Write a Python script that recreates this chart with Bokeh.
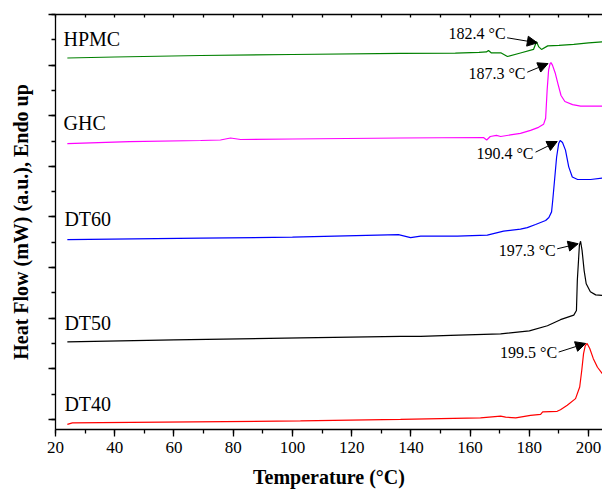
from bokeh.plotting import figure
from bokeh.models import Range1d, LinearAxis, SingleIntervalTicker, Arrow, NormalHead
from bokeh.embed import file_html
from bokeh.resources import INLINE
from bokeh.core.properties import value

# ---------------- data ----------------
SERIES = ["HPMC", "GHC", "DT60", "DT50", "DT40"]
COLORS = ["#008000", "#ff00ff", "#0000ff", "#000000", "#ff0000"]

hpmc_t = [24, 40, 69, 100, 136.5, 155, 163, 165.5, 166.2, 167.2, 170.5, 172.6, 177, 181.4, 182.4, 183.2,
          184.1, 186.2, 190, 195, 200, 204.7]
hpmc_v = [7.14, 7.16, 7.19, 7.21, 7.23, 7.235, 7.25, 7.26, 7.29, 7.24, 7.24, 7.17, 7.24, 7.31, 7.46, 7.36,
          7.31, 7.38, 7.39, 7.41, 7.44, 7.46]

ghc_t = [24, 45, 69, 75.7, 79.1, 82.5, 100, 136.5, 164.5, 165.6, 166.8, 168.9, 170.3, 173.6, 177.0, 180.4,
         183.1, 184.8, 185.5, 186.0, 186.5, 187.0, 187.3, 187.8, 188.7, 189.7, 190.7, 192.0, 194.6, 197.3, 204.7]
ghc_v = [5.45, 5.49, 5.51, 5.52, 5.56, 5.53, 5.54, 5.56, 5.57, 5.52, 5.59, 5.61, 5.59, 5.62, 5.65, 5.71,
         5.77, 5.83, 5.95, 6.50, 6.90, 7.03, 7.05, 7.00, 6.85, 6.62, 6.40, 6.28, 6.22, 6.19, 6.19]

dt60_t = [24, 69, 100, 135.8, 139.9, 143.3, 155.7, 165.8, 171.3, 177.0, 179.3, 182.1, 185.5, 186.6, 187.5,
          187.9, 188.5, 189.2, 189.9, 190.4, 191.2, 192.2, 193.3, 194.5, 196.3, 200.7, 204.7]
dt60_v = [3.55, 3.58, 3.60, 3.65, 3.59, 3.62, 3.62, 3.64, 3.72, 3.76, 3.79, 3.85, 3.93, 3.99, 4.10,
          4.33, 4.72, 5.18, 5.45, 5.51, 5.47, 5.32, 4.99, 4.79, 4.74, 4.74, 4.77]

dt50_t = [24, 60, 102.7, 136.5, 143.3, 153.4, 170.3, 180, 186.1, 190.5, 195.0, 195.9, 196.2, 196.6, 196.9,
          197.3, 197.8, 198.5, 199.2, 200.6, 202.4, 204.7]
dt50_v = [1.53, 1.57, 1.61, 1.64, 1.64, 1.66, 1.69, 1.75, 1.85, 1.97, 2.06, 2.15, 2.75, 3.14, 3.44,
          3.52, 3.34, 2.94, 2.68, 2.52, 2.46, 2.45]

dt40_t = [24, 25.7, 35.2, 102.7, 136.5, 163.5, 170.3, 172.0, 175.4, 180.4, 183.8, 184.5, 189.4, 190.5,
          192.8, 195.6, 197.0, 197.7, 198.3, 198.9, 199.5, 200.4, 201.6, 203.0, 204.7]
dt40_v = [-0.10, -0.07, -0.065, -0.03, 0.0, 0.03, 0.065, 0.045, 0.03, 0.08, 0.10, 0.15, 0.16, 0.19,
          0.28, 0.41, 0.64, 0.97, 1.30, 1.46, 1.50, 1.40, 1.20, 1.03, 0.90]

PEAK_T = [182.4, 187.3, 190.4, 197.3, 199.5]

TEMPS = [hpmc_t, ghc_t, dt60_t, dt50_t, dt40_t]
VALUES = [hpmc_v, ghc_v, dt60_v, dt50_v, dt40_v]

SERIF = "Liberation Serif"

p = figure(width=602, height=492, output_backend="svg", toolbar_location=None,
           x_range=Range1d(20, 204.7), y_range=Range1d(-0.2, 8.0),
           min_border_left=55, min_border_right=0, min_border_top=14, min_border_bottom=63)
p.outline_line_color = None
p.xgrid.visible = False
p.ygrid.visible = False
p.background_fill_color = "white"
p.border_fill_color = "white"

for t, v, c in zip(TEMPS, VALUES, COLORS):
    p.line(t, v, line_color=c, line_width=1.2)

# curve names
name_x = [22.7, 22.7, 23.0, 23.0, 23.0]
name_y = [7.52, 5.85, 3.96, 1.90, 0.30]
p.text(x=name_x, y=name_y, text=SERIES, text_font=value(SERIF), text_font_size="20px",
       text_color="black", text_align="left", text_baseline="middle")

# peak annotations
ann_x = [172.0, 178.7, 181.4, 188.9, 189.4]
ann_y = [7.63, 6.84, 5.26, 3.34, 1.33]
arr_x0 = [172.5, 179.3, 182.1, 189.4, 189.9]
arr_y0 = [7.54, 6.86, 5.28, 3.37, 1.33]
arr_x1 = [182.7, 186.3, 189.4, 196.5, 199.0]
arr_y1 = [7.44, 7.03, 5.49, 3.47, 1.50]
p.text(x=ann_x, y=ann_y, text=[f"{t} °C" for t in PEAK_T], text_font=value(SERIF),
       text_font_size="16px", text_color="black", text_align="right", text_baseline="middle")
for x0, y0, x1, y1 in zip(arr_x0, arr_y0, arr_x1, arr_y1):
    p.add_layout(Arrow(end=NormalHead(size=10, fill_color="black", line_color="black"),
                       x_start=x0, y_start=y0, x_end=x1, y_end=y1,
                       line_color="black", line_width=1))

# axes
AX_W = 1.3
xa = p.xaxis[0]
xa.ticker = SingleIntervalTicker(interval=20, num_minor_ticks=2)
xa.major_tick_out = 7
xa.major_tick_in = 0
xa.minor_tick_out = 4
xa.minor_tick_in = 0
xa.major_label_text_font = SERIF
xa.major_label_text_font_size = "17px"
xa.major_label_text_color = "black"
xa.major_label_standoff = 5
xa.axis_label = "Temperature (°C)"
xa.axis_label_text_font = SERIF
xa.axis_label_text_font_style = "bold"
xa.axis_label_text_font_size = "20px"
xa.axis_label_text_color = "black"
xa.axis_label_standoff = 10

ya = p.yaxis[0]
ya.ticker = SingleIntervalTicker(interval=1, num_minor_ticks=2)
ya.major_tick_out = 7
ya.major_tick_in = 0
ya.minor_tick_out = 4
ya.minor_tick_in = 0
ya.major_label_text_color = None
ya.major_label_standoff = 0
ya.axis_label = "Heat Flow (mW) (a.u.), Endo up"
ya.axis_label_text_font = SERIF
ya.axis_label_text_font_style = "bold"
ya.axis_label_text_font_size = "20px"
ya.axis_label_text_color = "black"
ya.axis_label_standoff = 17

top = LinearAxis(ticker=SingleIntervalTicker(interval=10, num_minor_ticks=0),
                 major_tick_in=3, major_tick_out=0, minor_tick_in=0, minor_tick_out=0,
                 major_label_text_color=None, major_label_standoff=0)
p.add_layout(top, "above")

for ax in (xa, ya, top):
    ax.axis_line_width = AX_W
    ax.axis_line_color = "black"
    ax.major_tick_line_width = AX_W
    ax.minor_tick_line_width = AX_W
    ax.major_tick_line_color = "black"
    ax.minor_tick_line_color = "black"

open("out.html", "w").write(file_html(p, INLINE))
